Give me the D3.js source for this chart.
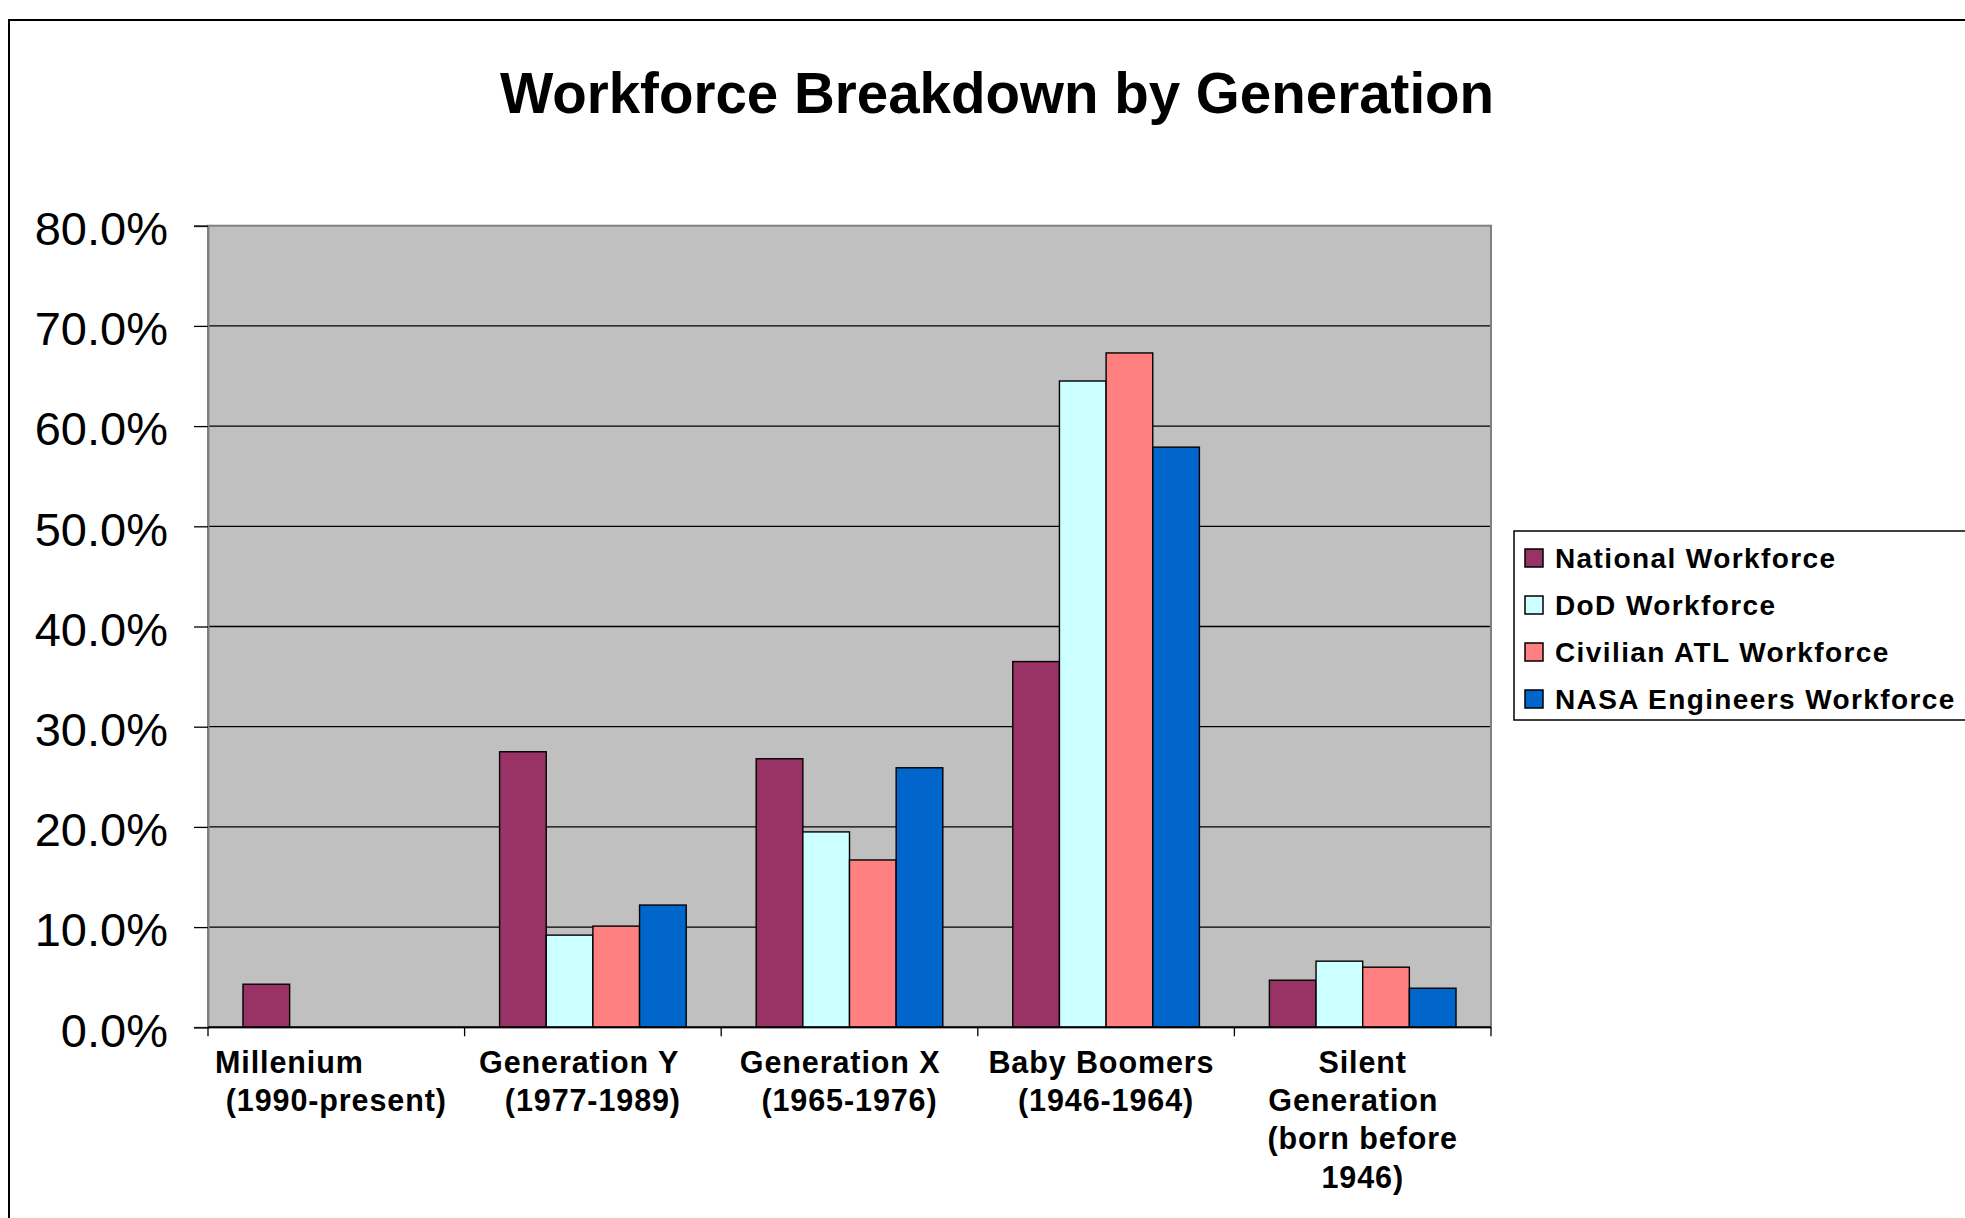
<!DOCTYPE html>
<html lang="en">
  <head>
    <meta charset="utf-8" />
    <title>Workforce Breakdown by Generation</title>
    <script type="text/javascript" src="https://cdn.jsdelivr.net/npm/d3@7"></script>
    <style type="text/css">
body {
  margin: 0;
  background: white;
}
svg text {
  font-family: "Liberation Sans", Arial, sans-serif;
  white-space: pre;
}
    </style>
  </head>
  <body>
    <script type="text/javascript">
// chart values
var categories = ["Millenium", "Generation Y", "Generation X", "Baby Boomers", "Silent Generation"];
// wrapped label lines as Excel drew them (trailing blanks kept, they shift the line)
var categoryLines = [
  ["Millenium          ", "(1990-present)"],
  ["Generation Y   ", "(1977-1989)"],
  ["Generation X  ", "(1965-1976)"],
  ["Baby Boomers ", "(1946-1964)"],
  ["Silent", "Generation  ", "(born before", "1946)"]
];
var seriesNames = ["National Workforce", "DoD Workforce", "Civilian ATL Workforce", "NASA Engineers Workforce"];
var seriesColors = ["#993366", "#CCFFFF", "#FF8080", "#0066CC"];
var nationalValues = [0.043, 0.275, 0.268, 0.365, 0.047];
var dodValues      = [null, 0.092, 0.195, 0.645, 0.066];
var civilianValues = [null, 0.101, 0.167, 0.673, 0.060];
var nasaValues     = [null, 0.122, 0.259, 0.579, 0.039];
var yTicks = [0, 0.1, 0.2, 0.3, 0.4, 0.5, 0.6, 0.7, 0.8];
var title = "Workforce Breakdown by Generation";

var w = 1965;
var h = 1218;
var plot = { left: 208, right: 1491, top: 225.7, bottom: 1027.3 };

var seriesValues = [nationalValues, dodValues, civilianValues, nasaValues];

var svg = d3.select("body")
            .append("svg")
            .attr("width", w)
            .attr("height", h);

// chart area border (runs off the right and bottom of the picture)
svg.append("rect")
   .attr("x", 9)
   .attr("y", 20)
   .attr("width", w + 50)
   .attr("height", h + 50)
   .attr("fill", "white")
   .attr("stroke", "black")
   .attr("stroke-width", 2);

svg.append("text")
   .text(title)
   .attr("x", 997)
   .attr("y", 113)
   .attr("text-anchor", "middle")
   .attr("font-size", "56.5px")
   .attr("font-weight", "bold")
   .attr("fill", "black");

var xScale = d3.scaleBand()
               .domain(categories)
               .range([plot.left, plot.right])
               .paddingInner(0)
               .paddingOuter(0);
// Excel gap width 150%: 4 bars + 1.5 bar widths of gap per category
var gapFrac = 0.75 / 5.5;
var innerScale = d3.scaleBand()
                   .domain(d3.range(seriesNames.length))
                   .range([xScale.bandwidth() * gapFrac, xScale.bandwidth() * (1 - gapFrac)])
                   .padding(0);
var yScale = d3.scaleLinear()
               .domain([0, 0.8])
               .range([plot.bottom, plot.top]);

// plot background
svg.append("rect")
   .attr("x", plot.left)
   .attr("y", plot.top)
   .attr("width", plot.right - plot.left)
   .attr("height", plot.bottom - plot.top)
   .attr("fill", "#C0C0C0");

// gridlines
svg.append("g")
   .selectAll("line")
   .data(yTicks.slice(1, -1))
   .enter()
   .append("line")
   .attr("x1", plot.left)
   .attr("x2", plot.right)
   .attr("y1", function(d) { return yScale(d); })
   .attr("y2", function(d) { return yScale(d); })
   .attr("stroke", "black")
   .attr("stroke-width", 1.3);

svg.append("rect")
   .attr("x", plot.left)
   .attr("y", plot.top)
   .attr("width", plot.right - plot.left)
   .attr("height", plot.bottom - plot.top)
   .attr("fill", "none")
   .attr("stroke", "#808080")
   .attr("stroke-width", 2);

// bars
var barData = [];
categories.forEach(function(c, ci) {
  seriesValues.forEach(function(vals, si) {
    if (vals[ci] !== null) barData.push({ c: c, s: si, v: vals[ci] });
  });
});
svg.append("g")
   .attr("id", "bars")
   .selectAll("rect")
   .data(barData)
   .enter()
   .append("rect")
   .attr("x", function(d) { return xScale(d.c) + innerScale(d.s); })
   .attr("y", function(d) { return yScale(d.v); })
   .attr("width", innerScale.bandwidth())
   .attr("height", function(d) { return yScale(0) - yScale(d.v); })
   .attr("fill", function(d) { return seriesColors[d.s]; })
   .attr("stroke", "black")
   .attr("stroke-width", 1.4);

// y axis
var yAxis = svg.append("g")
   .attr("transform", "translate(" + plot.left + ",0)")
   .call(d3.axisLeft(yScale)
           .tickValues(yTicks)
           .tickFormat(d3.format(".1%"))
           .tickSize(14)
           .tickPadding(26));
yAxis.select(".domain").attr("stroke", "#808080").attr("stroke-width", 2);
yAxis.selectAll(".tick line").attr("stroke", "black").attr("stroke-width", 1.3);
yAxis.selectAll(".tick text")
     .attr("font-family", "'Liberation Sans', Arial, sans-serif")
     .attr("font-size", "47px")
     .attr("fill", "black")
     .attr("dy", "0.4em");

// x axis line and category separators
svg.append("line")
   .attr("x1", plot.left)
   .attr("x2", plot.right)
   .attr("y1", plot.bottom)
   .attr("y2", plot.bottom)
   .attr("stroke", "black")
   .attr("stroke-width", 2);
svg.append("g")
   .selectAll("line")
   .data(categories.concat(["end"]))
   .enter()
   .append("line")
   .attr("x1", function(d, i) { return plot.left + i * xScale.step(); })
   .attr("x2", function(d, i) { return plot.left + i * xScale.step(); })
   .attr("y1", plot.bottom)
   .attr("y2", plot.bottom + 9)
   .attr("stroke", "black")
   .attr("stroke-width", 1.3);

// category labels
var labelGroups = svg.append("g")
   .selectAll("text")
   .data(categories)
   .enter()
   .append("text")
   .attr("x", function(d) { return xScale(d) + xScale.bandwidth() / 2; })
   .attr("y", 1072.5)
   .attr("text-anchor", "middle")
   .attr("font-size", "30.5px")
   .attr("font-weight", "bold")
   .attr("letter-spacing", "0.9px")
   .attr("xml:space", "preserve")
   .attr("fill", "black");
labelGroups.selectAll("tspan")
   .data(function(d, i) { return categoryLines[i]; })
   .enter()
   .append("tspan")
   .attr("x", function() { return d3.select(this.parentNode).attr("x"); })
   .attr("dy", function(d, i) { return i === 0 ? 0 : 38.4; })
   .text(function(d) { return d; });

// legend
var legend = svg.append("g").attr("id", "legend");
legend.append("rect")
      .attr("x", 1514)
      .attr("y", 531)
      .attr("width", 500)
      .attr("height", 189)
      .attr("fill", "white")
      .attr("stroke", "black")
      .attr("stroke-width", 1.5);
var items = legend.selectAll("g.item")
      .data(seriesNames)
      .enter()
      .append("g")
      .attr("class", "item")
      .attr("transform", function(d, i) { return "translate(1525," + (549 + i * 47) + ")"; });
items.append("rect")
     .attr("width", 18)
     .attr("height", 18)
     .attr("fill", function(d, i) { return seriesColors[i]; })
     .attr("stroke", "black")
     .attr("stroke-width", 1.5);
items.append("text")
     .text(function(d) { return d; })
     .attr("x", 30)
     .attr("y", 19)
     .attr("font-size", "28px")
     .attr("font-weight", "bold")
     .attr("letter-spacing", "1.4px")
     .attr("fill", "black");
    </script>
  </body>
</html>
